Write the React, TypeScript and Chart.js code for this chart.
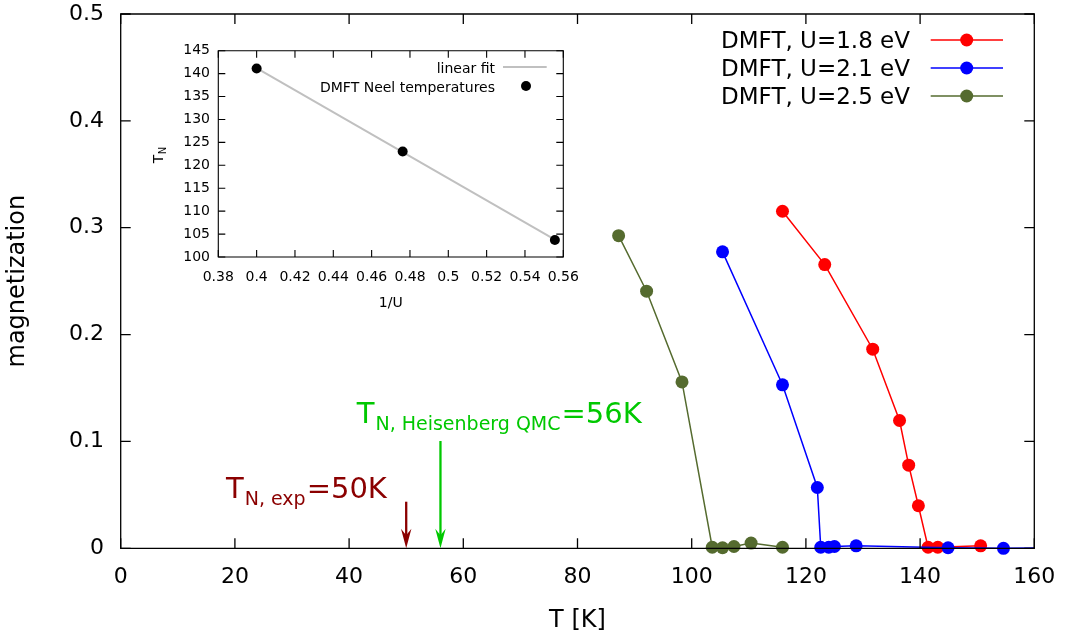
import React, { useEffect, useRef } from 'react';
import { Chart, registerables } from 'chart.js';
Chart.register(...registerables);

const FONT = '"DejaVu Sans", "Liberation Sans", sans-serif';

// ---- main chart data ----
const tempU18 = [115.9, 123.3, 131.7, 136.4, 138.0, 139.7, 141.4, 143.1, 150.6];
const magU18 = [0.3154, 0.2655, 0.1863, 0.1196, 0.0778, 0.0398, 0.001, 0.001, 0.0023];
const tempU21 = [105.4, 115.9, 122.0, 122.6, 124.0, 125.0, 128.8, 144.9, 154.6, 163.0];
const magU21 = [0.2774, 0.153, 0.0569, 0.001, 0.001, 0.0017, 0.0023, 0.0005, 0.0, 0.0005];
const tempU25 = [87.2, 92.1, 98.3, 103.6, 105.4, 107.4, 110.4, 115.9];
const magU25 = [0.2926, 0.2406, 0.1557, 0.001, 0.0005, 0.0017, 0.0049, 0.001];
const seriesLabels = ['DMFT, U=1.8 eV', 'DMFT, U=2.1 eV', 'DMFT, U=2.5 eV'];
const seriesColors = ['#ff0000', '#0000ff', '#556b2f'];
const xTicksMain = [0, 20, 40, 60, 80, 100, 120, 140, 160];
const yTicksMain = [0, 0.1, 0.2, 0.3, 0.4, 0.5];
// arrows: temperature, top of arrow (magnetization units)
const arrowTemps = [50, 56];
const arrowTops = [0.0436, 0.1004];

// ---- inset data ----
const invU = [0.4, 0.4762, 0.5556];
const neelTemps = [141.1, 123.0, 103.7];
const fitInvU = [0.4, 0.5556];
const fitTemps = [141.2, 103.8];
const xTicksInset = [0.38, 0.4, 0.42, 0.44, 0.46, 0.48, 0.5, 0.52, 0.54, 0.56];
const yTicksInset = [100, 105, 110, 115, 120, 125, 130, 135, 140, 145];

const pts = (xs: number[], ys: number[]) => xs.map((x, i) => ({ x, y: ys[i] }));

const zeroPad = (s: any) => {
  s.paddingTop = 0;
  s.paddingBottom = 0;
  s.paddingLeft = 0;
  s.paddingRight = 0;
};

function framePlugin(len: number, lw: number) {
  return {
    id: 'frame' + len,
    afterDraw(chart: any) {
      const { ctx, chartArea: a, scales } = chart;
      ctx.save();
      ctx.strokeStyle = '#000';
      ctx.lineWidth = lw;
      ctx.beginPath();
      for (const t of scales.x.ticks) {
        const px = scales.x.getPixelForValue(t.value);
        ctx.moveTo(px, a.bottom);
        ctx.lineTo(px, a.bottom - len);
        ctx.moveTo(px, a.top);
        ctx.lineTo(px, a.top + len);
      }
      for (const t of scales.y.ticks) {
        const py = scales.y.getPixelForValue(t.value);
        ctx.moveTo(a.left, py);
        ctx.lineTo(a.left + len, py);
        ctx.moveTo(a.right, py);
        ctx.lineTo(a.right - len, py);
      }
      ctx.stroke();
      ctx.beginPath();
      ctx.rect(a.left, a.top, a.right - a.left, a.bottom - a.top);
      ctx.stroke();
      ctx.restore();
    },
  };
}

const mainDecor = {
  id: 'mainDecor',
  afterDraw(chart: any) {
    const { ctx, scales } = chart;
    ctx.save();
    // legend
    const rows = [48.3, 76.3, 104.3];
    chart.data.datasets.slice(0, 3).forEach((ds: any, i: number) => {
      const base = rows[i];
      ctx.font = `23px ${FONT}`;
      ctx.fillStyle = '#000';
      ctx.textAlign = 'right';
      ctx.textBaseline = 'alphabetic';
      ctx.fillText(ds.label, 910, base);
      const ly = base - 8.3;
      ctx.strokeStyle = ds.borderColor;
      ctx.lineWidth = 1.5;
      ctx.beginPath();
      ctx.moveTo(930.7, ly);
      ctx.lineTo(1003, ly);
      ctx.stroke();
      ctx.fillStyle = ds.backgroundColor;
      ctx.beginPath();
      ctx.arc(966.7, ly, 6.5, 0, Math.PI * 2);
      ctx.fill();
    });
    // arrows
    const arrowColors = ['#8b0000', '#00c800'];
    arrowTemps.forEach((t, i) => {
      const x = scales.x.getPixelForValue(t);
      const y0 = scales.y.getPixelForValue(arrowTops[i]);
      const y1 = scales.y.getPixelForValue(0);
      ctx.strokeStyle = arrowColors[i];
      ctx.fillStyle = arrowColors[i];
      ctx.lineWidth = 2.3;
      ctx.beginPath();
      ctx.moveTo(x, y0);
      ctx.lineTo(x, y1 - 10);
      ctx.stroke();
      ctx.beginPath();
      ctx.moveTo(x, y1);
      ctx.lineTo(x - 5.2, y1 - 19.5);
      ctx.lineTo(x, y1 - 13);
      ctx.lineTo(x + 5.2, y1 - 19.5);
      ctx.closePath();
      ctx.fill();
    });
    // annotation texts
    ctx.textAlign = 'left';
    ctx.textBaseline = 'alphabetic';
    const label = (x: number, base: number, sub: string, rest: string, color: string) => {
      ctx.fillStyle = color;
      ctx.font = `29px ${FONT}`;
      ctx.fillText('T', x, base);
      let cx = x + ctx.measureText('T').width + 1;
      ctx.font = `19px ${FONT}`;
      ctx.fillText(sub, cx, base + 6.5);
      cx += ctx.measureText(sub).width + 1;
      ctx.font = `29px ${FONT}`;
      ctx.fillText(rest, cx, base);
    };
    label(226, 498, 'N, exp', '=50K', '#8b0000');
    label(356.7, 423.3, 'N, Heisenberg QMC', '=56K', '#00c800');
    ctx.restore();
  },
};

const insetDecor = {
  id: 'insetDecor',
  afterDraw(chart: any) {
    const { ctx } = chart;
    ctx.save();
    // rotated y title T_N
    ctx.translate(12.7, 127.3);
    ctx.rotate(-Math.PI / 2);
    ctx.fillStyle = '#000';
    ctx.textAlign = 'left';
    ctx.textBaseline = 'alphabetic';
    ctx.font = `14px ${FONT}`;
    ctx.fillText('T', 0, 0);
    const w = ctx.measureText('T').width;
    ctx.font = `10px ${FONT}`;
    ctx.fillText('N', w + 0.5, 3);
    ctx.restore();
    // legend
    ctx.save();
    ctx.font = `14px ${FONT}`;
    ctx.fillStyle = '#000';
    ctx.textAlign = 'right';
    ctx.textBaseline = 'alphabetic';
    const fit = chart.data.datasets[0];
    const dots = chart.data.datasets[1];
    ctx.fillText(fit.label, 345, 37);
    ctx.fillText(dots.label, 345, 55.7);
    ctx.strokeStyle = fit.borderColor;
    ctx.lineWidth = 2;
    ctx.beginPath();
    ctx.moveTo(353, 31);
    ctx.lineTo(396.7, 31);
    ctx.stroke();
    ctx.fillStyle = dots.backgroundColor;
    ctx.beginPath();
    ctx.arc(376, 50, 5, 0, Math.PI * 2);
    ctx.fill();
    ctx.restore();
  },
};

export default function App() {
  const mainRef = useRef<HTMLCanvasElement>(null);
  const insetRef = useRef<HTMLCanvasElement>(null);

  useEffect(() => {
    document.body.style.margin = '0';
    const clip = { left: 12, top: 12, right: 0, bottom: 12 };
    const mkDs = (label: string, color: string, xs: number[], ys: number[], order: number) => ({
      label,
      data: pts(xs, ys),
      borderColor: color,
      backgroundColor: color,
      showLine: true,
      borderWidth: 1.5,
      pointRadius: 6.5,
      pointBorderWidth: 0,
      pointHoverRadius: 6.5,
      order,
      clip,
    });
    const tickFont = { family: FONT, size: 22 };
    const titleFont = { family: FONT, size: 24 };
    const main = new Chart(mainRef.current!, {
      type: 'scatter',
      data: {
        datasets: [
          mkDs(seriesLabels[0], seriesColors[0], tempU18, magU18, 3),
          mkDs(seriesLabels[1], seriesColors[1], tempU21, magU21, 2),
          mkDs(seriesLabels[2], seriesColors[2], tempU25, magU25, 1),
        ] as any,
      },
      options: {
        animation: false,
        responsive: false,
        events: [],
        layout: { padding: { left: 0, top: 14, right: 31.7, bottom: 0 } },
        plugins: { legend: { display: false }, tooltip: { enabled: false } },
        scales: {
          x: {
            type: 'linear',
            min: 0,
            max: 160,
            afterBuildTicks: (s: any) => { s.ticks = xTicksMain.map((v) => ({ value: v })); },
            afterFit: (s: any) => { s.height = 88.7; zeroPad(s); },
            grid: { display: false, drawTicks: false },
            border: { display: false },
            ticks: { padding: 16, font: tickFont, color: '#000', callback: (v: any) => String(v) },
            title: { display: true, text: 'T [K]', font: titleFont, color: '#000', padding: { top: 0, bottom: 1.6 } },
          },
          y: {
            type: 'linear',
            min: 0,
            max: 0.5,
            afterBuildTicks: (s: any) => { s.ticks = yTicksMain.map((v) => ({ value: v })); },
            afterFit: (s: any) => { s.width = 120.7; zeroPad(s); },
            grid: { display: false, drawTicks: false },
            border: { display: false },
            ticks: { padding: 16.7, font: tickFont, color: '#000', callback: (v: any) => String(v) },
            title: { display: true, text: 'magnetization', font: titleFont, color: '#000', padding: { top: 3.6, bottom: 0 } },
          },
        },
      } as any,
      plugins: [framePlugin(10, 1.3), mainDecor],
    });

    const insetFont = { family: FONT, size: 14 };
    const inset = new Chart(insetRef.current!, {
      type: 'scatter',
      data: {
        datasets: [
          {
            label: 'linear fit',
            data: pts(fitInvU, fitTemps),
            borderColor: '#c0c0c0',
            backgroundColor: '#c0c0c0',
            showLine: true,
            borderWidth: 2,
            pointRadius: 0,
            order: 2,
          },
          {
            label: 'DMFT Neel temperatures',
            data: pts(invU, neelTemps),
            borderColor: '#000',
            backgroundColor: '#000',
            showLine: false,
            pointRadius: 5,
            pointBorderWidth: 0,
            order: 1,
            clip: false,
          },
        ] as any,
      },
      options: {
        animation: false,
        responsive: false,
        events: [],
        layout: { padding: { left: 0, top: 14.7, right: 16.7, bottom: 0 } },
        plugins: { legend: { display: false }, tooltip: { enabled: false } },
        scales: {
          x: {
            type: 'linear',
            min: 0.38,
            max: 0.56,
            afterBuildTicks: (s: any) => { s.ticks = xTicksInset.map((v) => ({ value: v })); },
            afterFit: (s: any) => { s.height = 55; zeroPad(s); },
            grid: { display: false, drawTicks: false },
            border: { display: false },
            ticks: { padding: 11.6, font: insetFont, color: '#000', callback: (v: any) => String(v) },
            title: { display: true, text: '1/U', font: insetFont, color: '#000', padding: { top: 0, bottom: 0 } },
          },
          y: {
            type: 'linear',
            min: 100,
            max: 145,
            afterBuildTicks: (s: any) => { s.ticks = yTicksInset.map((v) => ({ value: v })); },
            afterFit: (s: any) => { s.width = 68.3; zeroPad(s); },
            grid: { display: false, drawTicks: false },
            border: { display: false },
            ticks: { padding: 8.3, font: insetFont, color: '#000', callback: (v: any) => String(v) },
          },
        },
      } as any,
      plugins: [framePlugin(7, 1.1), insetDecor],
    });

    return () => {
      main.destroy();
      inset.destroy();
    };
  }, []);

  return (
    <div style={{ position: 'relative', width: 1066, height: 637, background: '#fff' }}>
      <canvas ref={mainRef} width={1066} height={637} style={{ position: 'absolute', left: 0, top: 0 }} />
      <canvas ref={insetRef} width={430} height={276} style={{ position: 'absolute', left: 150, top: 36 }} />
    </div>
  );
}
